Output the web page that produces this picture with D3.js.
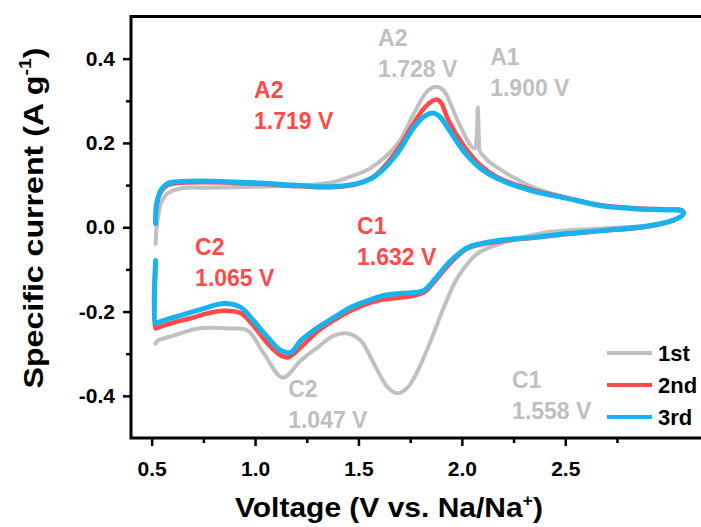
<!DOCTYPE html>
<html>
<head>
<meta charset="utf-8">
<script src="https://cdn.jsdelivr.net/npm/d3@7/dist/d3.min.js"></script>
<style>
  body { margin: 0; background: #fff; }
  svg text { font-family: "Liberation Sans", Arial, sans-serif; font-weight: bold; }
</style>
</head>
<body>
<svg id="mainsvg" width="701" height="527"></svg>
<script>
// CV curves, [voltage, current] read along the plot axes
const cycle1 = [[0.519,-0.039],[0.524,0.000],[0.534,0.032],[0.544,0.056],[0.577,0.080],[0.640,0.092],[0.771,0.094],[0.979,0.096],[1.221,0.099],[1.366,0.106],[1.448,0.118],[1.560,0.141],[1.690,0.198],[1.767,0.269],[1.835,0.324],[1.884,0.333],[1.913,0.324],[1.980,0.253],[2.043,0.194],[2.063,0.187],[2.072,0.215],[2.077,0.284],[2.082,0.215],[2.087,0.180],[2.106,0.168],[2.126,0.158],[2.174,0.141],[2.251,0.118],[2.348,0.094],[2.513,0.070],[2.672,0.053],[2.832,0.046],[2.995,0.042],[3.065,0.040],[3.072,0.033],[3.043,0.021],[2.914,0.005],[2.672,-0.003],[2.397,-0.013],[2.188,-0.039],[2.077,-0.062],[1.980,-0.119],[1.913,-0.190],[1.850,-0.269],[1.787,-0.340],[1.738,-0.380],[1.690,-0.394],[1.642,-0.380],[1.574,-0.323],[1.511,-0.269],[1.448,-0.252],[1.381,-0.257],[1.303,-0.285],[1.221,-0.316],[1.134,-0.357],[1.042,-0.299],[0.964,-0.245],[0.882,-0.240],[0.723,-0.240],[0.606,-0.257],[0.529,-0.269],[0.519,-0.276]];
const cycle2 = [[0.519,0.009],[0.524,0.052],[0.544,0.083],[0.577,0.100],[0.626,0.105],[0.737,0.107],[0.979,0.104],[1.221,0.097],[1.366,0.095],[1.497,0.103],[1.560,0.116],[1.608,0.135],[1.690,0.185],[1.767,0.246],[1.816,0.282],[1.859,0.300],[1.879,0.303],[1.900,0.295],[1.932,0.257],[2.009,0.194],[2.092,0.146],[2.174,0.118],[2.334,0.090],[2.513,0.069],[2.672,0.052],[2.832,0.045],[2.995,0.042],[3.065,0.040],[3.072,0.033],[3.043,0.021],[2.914,0.003],[2.672,-0.009],[2.513,-0.016],[2.348,-0.025],[2.188,-0.033],[2.029,-0.050],[1.947,-0.084],[1.864,-0.131],[1.816,-0.155],[1.705,-0.167],[1.622,-0.171],[1.545,-0.181],[1.463,-0.198],[1.381,-0.221],[1.303,-0.247],[1.221,-0.285],[1.158,-0.309],[1.124,-0.304],[1.061,-0.276],[0.979,-0.226],[0.931,-0.204],[0.848,-0.198],[0.771,-0.204],[0.689,-0.216],[0.606,-0.226],[0.529,-0.238],[0.519,-0.240],[0.519,-0.090]];
const cycle3 = [[0.519,0.009],[0.524,0.056],[0.544,0.087],[0.577,0.104],[0.626,0.108],[0.737,0.110],[0.979,0.106],[1.221,0.099],[1.366,0.096],[1.497,0.104],[1.560,0.115],[1.608,0.132],[1.690,0.177],[1.767,0.236],[1.816,0.262],[1.859,0.271],[1.890,0.264],[1.932,0.236],[2.009,0.180],[2.092,0.139],[2.174,0.115],[2.334,0.087],[2.513,0.068],[2.672,0.051],[2.832,0.044],[2.995,0.041],[3.065,0.039],[3.072,0.032],[3.043,0.021],[2.914,0.004],[2.672,-0.008],[2.513,-0.015],[2.348,-0.024],[2.188,-0.031],[2.029,-0.048],[1.947,-0.079],[1.864,-0.126],[1.816,-0.150],[1.705,-0.157],[1.622,-0.162],[1.545,-0.174],[1.463,-0.190],[1.381,-0.214],[1.303,-0.238],[1.221,-0.269],[1.172,-0.297],[1.124,-0.292],[1.061,-0.261],[0.979,-0.214],[0.931,-0.190],[0.848,-0.181],[0.771,-0.190],[0.689,-0.202],[0.606,-0.214],[0.529,-0.226],[0.519,-0.228],[0.519,-0.079]];

const cycleNames = ['1st', '2nd', '3rd'];
const xTicks = [0.5, 1.0, 1.5, 2.0, 2.5];
const xMinorTicks = [0.75, 1.25, 1.75, 2.25, 2.75];
const yTicks = [-0.4, -0.2, 0.0, 0.2, 0.4];
const yMinorTicks = [-0.3, -0.1, 0.1, 0.3];

// peak labels: which cycle's colour, and where the label sits (V, A/g)
const peakNames = ['A2', 'A1', 'A2', 'C1', 'C2', 'C2', 'C1'];
const peakVolts = ['1.728 V', '1.900 V', '1.719 V', '1.632 V', '1.065 V', '1.047 V', '1.558 V'];
const peakCycle = [0, 0, 1, 1, 1, 0, 0];
const peakAt = [[1.595, 0.430], [2.137, 0.385], [0.995, 0.307], [1.493, -0.016], [0.710, -0.066], [1.160, -0.403], [2.243, -0.381]];

const colors = ['#c0c0c0', '#ff4949', '#17b3ef'];
const lineWidths = [4, 4.5, 5];

const svg = d3.select('#mainsvg');
const plotLeft = 131, plotTop = 16.5, plotBottom = 438, plotRight = 710;

const x = d3.scaleLinear().domain([0.4, 3.2]).range([plotLeft, plotRight]);
const y = d3.scaleLinear().domain([-0.5, 0.5]).range([plotBottom, plotTop]);

// curves
const line = d3.line()
    .x(d => x(d[0]))
    .y(d => y(d[1]))
    .curve(d3.curveCatmullRom.alpha(0.5));

svg.append('g').selectAll('path').data([cycle1, cycle2, cycle3]).join('path')
    .attr('d', line)
    .attr('fill', 'none')
    .attr('stroke', (d, i) => colors[i])
    .attr('stroke-width', (d, i) => lineWidths[i])
    .attr('stroke-linejoin', 'round')
    .attr('stroke-linecap', 'round');

// axes
const fmt = d => d.toFixed(1);
const yAxis = svg.append('g').attr('transform', `translate(${plotLeft},0)`)
    .call(d3.axisLeft(y).tickValues(yTicks).tickSize(8).tickPadding(8).tickFormat(fmt));
const yMinor = svg.append('g').attr('transform', `translate(${plotLeft},0)`)
    .call(d3.axisLeft(y).tickValues(yMinorTicks).tickSize(5).tickFormat(''));
const xAxis = svg.append('g').attr('transform', `translate(0,${plotBottom})`)
    .call(d3.axisBottom(x).tickValues(xTicks).tickSize(8).tickPadding(15).tickFormat(fmt));
const xMinor = svg.append('g').attr('transform', `translate(0,${plotBottom})`)
    .call(d3.axisBottom(x).tickValues(xMinorTicks).tickSize(5).tickFormat(''));

[yAxis, yMinor, xAxis, xMinor].forEach(a => {
    a.select('.domain').remove();
    a.selectAll('.tick line').attr('stroke', '#000').attr('stroke-width', 2.5);
    a.selectAll('.tick text').attr('fill', '#000').attr('font-size', 21)
        .style('font-family', '"Liberation Sans", Arial, sans-serif').style('font-weight', 'bold');
});

// frame: left, bottom and top edges
const frame = svg.append('g').attr('stroke', '#000').attr('stroke-width', 3).attr('fill', 'none');
frame.append('path').attr('d', `M${plotRight},${plotTop}H${plotLeft}V${plotBottom}H${plotRight}`).attr('stroke-linecap', 'square');

// peak labels
const labels = svg.append('g').selectAll('text').data(peakNames).join('text')
    .attr('x', (d, i) => x(peakAt[i][0]))
    .attr('y', (d, i) => y(peakAt[i][1]))
    .attr('font-size', 23)
    .attr('fill', (d, i) => peakCycle[i] == 0 ? '#bfbfbf' : '#ff4a4a');
labels.append('tspan').text(d => d);
labels.append('tspan')
    .attr('x', (d, i) => x(peakAt[i][0]))
    .attr('dy', 31)
    .text((d, i) => peakVolts[i]);

// legend
const legend = svg.append('g').attr('transform', 'translate(607,353)');
const rows = legend.selectAll('g').data(cycleNames).join('g')
    .attr('transform', (d, i) => `translate(0,${i * 32})`);
rows.append('line').attr('x1', 0).attr('x2', 45)
    .attr('stroke', (d, i) => colors[i]).attr('stroke-width', 4);
rows.append('text').attr('x', 51).attr('y', 7.5).attr('font-size', 22).attr('fill', '#000').text(d => d);

// axis titles, stretched to the width they take in the figure
function fitTo(sel, w) {
    const bw = sel.node().getBBox().width;
    const s = w / bw;
    const cx = +sel.attr('x');
    sel.attr('transform', `translate(${cx},0) scale(${s},1) translate(${-cx},0)`);
}

const xTitle = svg.append('text')
    .attr('x', 389).attr('y', 517)
    .attr('text-anchor', 'middle').attr('font-size', 27).attr('fill', '#000');
xTitle.append('tspan').text('Voltage (V vs. Na/Na');
xTitle.append('tspan').attr('font-size', 16).attr('dy', -11).text('+');
xTitle.append('tspan').attr('dy', 11).text(')');
fitTo(xTitle, 308);

const yTitleG = svg.append('g').attr('transform', 'translate(43,218) rotate(-90)');
const yTitle = yTitleG.append('text')
    .attr('x', 0).attr('y', 0)
    .attr('text-anchor', 'middle').attr('font-size', 28).attr('fill', '#000');
yTitle.append('tspan').text('Specific current (A g');
yTitle.append('tspan').attr('font-size', 17).attr('dy', -12).text('-1');
yTitle.append('tspan').attr('dy', 12).text(')');
fitTo(yTitle, 341);
</script>
</body>
</html>
